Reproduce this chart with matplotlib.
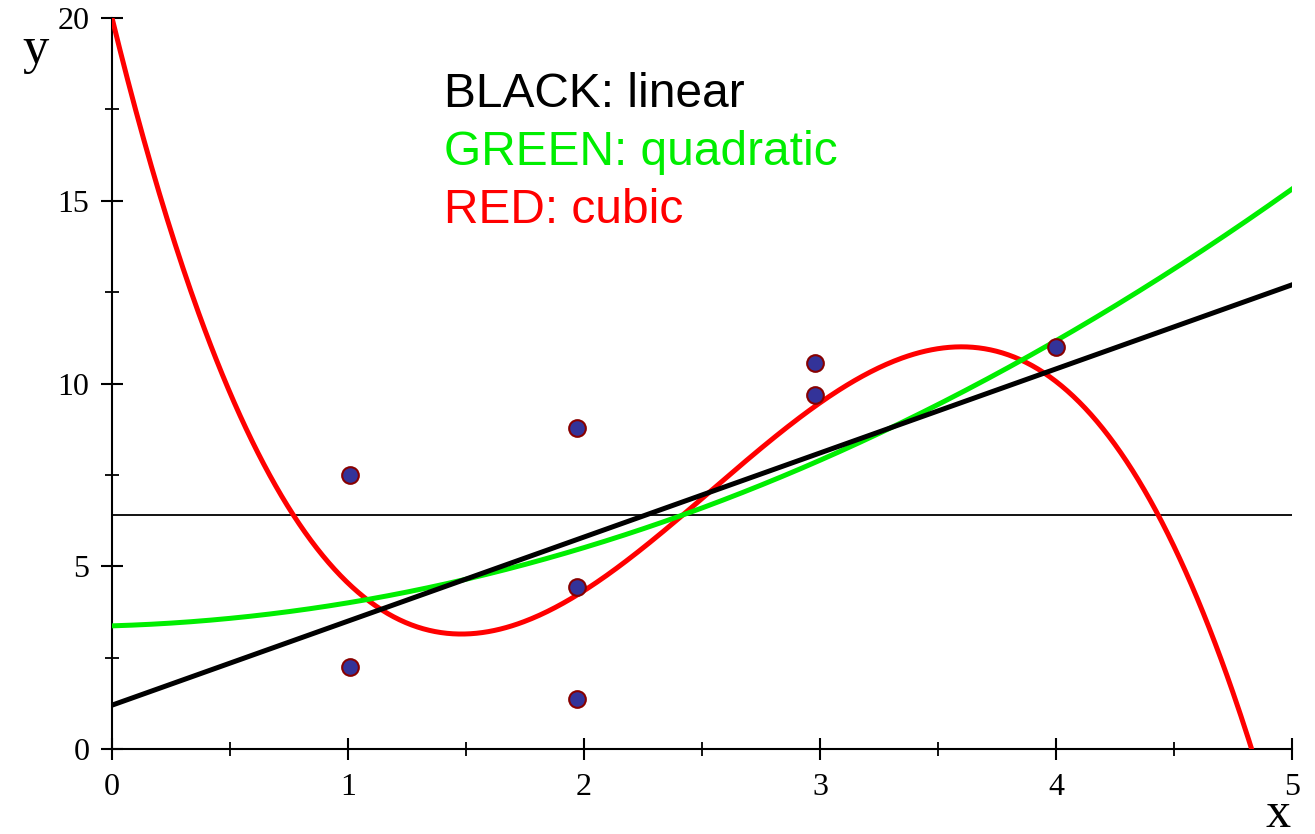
import numpy as np
import matplotlib.pyplot as plt

plt.rcParams['font.family'] = 'Liberation Serif'

# sample data
xs = [1.01, 1.01, 1.97, 1.97, 1.97, 2.98, 2.98, 4.0]
ys = [7.5, 2.24, 8.78, 4.43, 1.37, 10.56, 9.69, 11.0]
level = 6.4

# polynomial coefficients, lowest order first
lin = [1.2, 2.30]
quad = [3.37, 0.19, 0.44]
cub = [20.0, -26.39, 12.58, -1.651]

def poly(c, x):
    return sum(k * x**i for i, k in enumerate(c))

fig = plt.figure(figsize=(13.15, 8.34), dpi=100)
ax = fig.add_axes([0.0852, 0.1019, 0.8973, 0.8765])

x = np.linspace(0, 5, 600)
ax.axhline(level, color='black', lw=1.3, zorder=1)
ax.plot(x, poly(cub, x), color='#ff0000', lw=3.6, zorder=2)
ax.plot(x, poly(quad, x), color='#00ee00', lw=3.6, zorder=3)
ax.plot(x, poly(lin, x), color='black', lw=3.6, zorder=4)
ax.plot(xs, ys, 'o', ms=12, mfc='#333399', mec='#880000', mew=1.5, zorder=5)

ax.set_xlim(0, 5)
ax.set_ylim(0, 20)
for s in ['top', 'right']:
    ax.spines[s].set_visible(False)
for s in ['left', 'bottom']:
    ax.spines[s].set_linewidth(1.5)
    ax.spines[s].set_zorder(0)

ax.set_xticks(range(6))
ax.set_xticks(np.arange(0.5, 5, 1), minor=True)
ax.set_yticks(range(0, 21, 5))
ax.set_yticks(np.arange(2.5, 20, 5), minor=True)
ax.tick_params(which='major', direction='inout', length=16.5, width=1.5,
               labelsize=23)
ax.tick_params(which='minor', direction='inout', length=9.4, width=1.3)
ax.tick_params(axis='x', pad=9)
ax.tick_params(axis='y', pad=8)

fig.text(0.027, 0.94, 'y', fontsize=38, ha='center', va='center')
fig.text(0.972, 0.008, 'x', fontsize=36, ha='center', va='baseline')

tx = 0.338
for i, (txt, col) in enumerate([('BLACK: linear', 'black'),
                                ('GREEN: quadratic', '#00ee00'),
                                ('RED: cubic', '#ff0000')]):
    fig.text(tx, 1 - (107 + 58 * i) / 834, txt, color=col, fontsize=34.5,
             family='Liberation Sans', va='baseline')

fig.savefig('out.png', dpi=100)
